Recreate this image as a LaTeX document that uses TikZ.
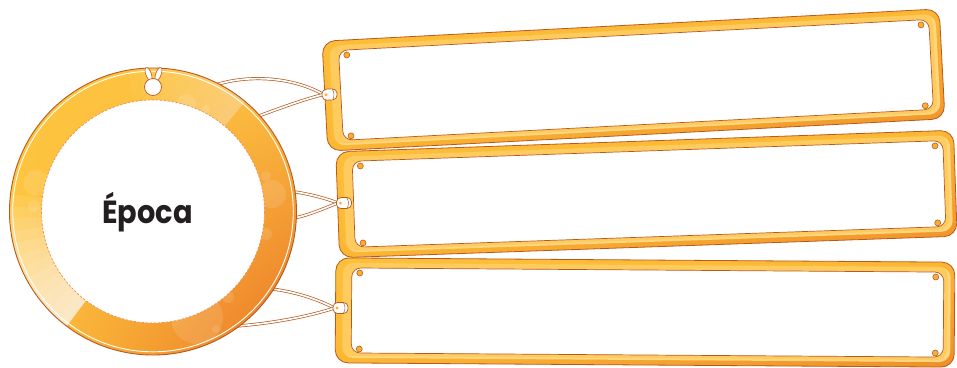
\documentclass[tikz,border=0pt]{standalone}
\usepackage{fontspec}
\usetikzlibrary{shadings}
\newfontfamily\pop{Poppins}
\definecolor{edge}{HTML}{B9581F}
\definecolor{fY}{HTML}{FDC03A}
\definecolor{fY2}{HTML}{FBB734}
\definecolor{fO}{HTML}{EF8E28}
\definecolor{fL}{HTML}{FFD57E}
\definecolor{dotc}{HTML}{F8AE30}
\definecolor{ringY}{HTML}{FEC63F}
\definecolor{ringY2}{HTML}{FCC243}
\definecolor{ringO}{HTML}{EA7324}
\definecolor{dashc}{HTML}{F0904A}
\definecolor{txt}{HTML}{231F20}
\tikzset{
  stringline/.style={draw=edge, double=white, double distance=1.7pt, line width=0.7pt},
  brd/.style={draw=edge, line width=0.8pt},
  dotst/.style={fill=dotc, draw=edge, line width=0.55pt},
  clipst/.style={fill=white, draw=edge, line width=0.7pt, rounded corners=4.5pt},
}
\newcommand{\myboard}[6]{% name, cx, cy, angle, W, H
  \begin{scope}[shift={(#2,#3)}, rotate=#4]
    \pgfmathsetmacro\hw{#5/2}\pgfmathsetmacro\hh{#6/2}
    \coordinate (#1) at (0,0);
    \shade[upper left=fY, upper right=fY2, lower left=fY2, lower right=fO, rounded corners=13pt]
      (-\hw,-\hh) rectangle (\hw,\hh);
    \fill[fL, rounded corners=11pt] ({-\hw+7},{-\hh+5}) rectangle ({\hw-4},{\hh-5});
    \fill[fY, rounded corners=11pt, opacity=0.45] ({-\hw+4},{-\hh+3}) rectangle ({\hw-7},{\hh-7});
    \draw[brd, rounded corners=13pt] (-\hw,-\hh) rectangle (\hw,\hh);
    \filldraw[fill=white, draw=edge, line width=0.7pt, rounded corners=9pt]
      ({-\hw+16},{-\hh+10}) rectangle ({\hw-11},{\hh-10});
    \foreach \px/\py in {{-\hw+24}/{-\hh+15}, {-\hw+24}/{\hh-14}, {\hw-19}/{-\hh+15}, {\hw-19}/{\hh-14}}
      \filldraw[dotst] (\px,\py) circle (3);
  \end{scope}
}
\newcommand{\myclip}[4]{% name, x, y, angle
  \begin{scope}[shift={(#2,#3)}, rotate=#4]
    \coordinate (#1) at (-6,0);
    \filldraw[clipst] (-7.5,-5.5) rectangle (7.5,5.5);
    \draw[edge, line width=0.5pt] (3,-5) .. controls (5,-2) and (5,2) .. (3,5);
    \fill[dotc] (-3.5,0) circle (1.6);
  \end{scope}
}
\begin{document}
\begin{tikzpicture}[x=1pt, y=-1pt]
\useasboundingbox (0,0) rectangle (957,367);
\fill[white] (0,0) rectangle (957,367);

% boards
\myboard{b1}{633.5}{80}{3}{618}{110}
\myboard{b2}{646.5}{194}{2}{618}{106}
\myboard{b3}{645}{312.5}{-0.4}{619}{105}

% ring coordinates
\coordinate (rc) at (153,211.5);
\coordinate (u1) at (212,86);
\coordinate (l1) at (256,117);
\coordinate (u2) at (288,191);
\coordinate (l2) at (288,219);
\coordinate (u3) at (262,288);
\coordinate (l3) at (238,326);
\coordinate (k1) at (323.5,94.5);
\coordinate (k2) at (338,203);
\coordinate (k3) at (334.5,308);

% strings
\draw[stringline] (u1) .. controls (250,73) and (295,78) .. (k1);
\draw[stringline] (l1) .. controls (283,107) and (305,99) .. (k1);
\draw[stringline] (u2) .. controls (305,193) and (322,197) .. (k2);
\draw[stringline] (l2) .. controls (305,217) and (322,209) .. (k2);
\draw[stringline] (u3) .. controls (290,290) and (315,298) .. (k3);
\draw[stringline] (l3) .. controls (275,323) and (310,316) .. (k3);

% ring
\shade[upper left=ringY, upper right=ringY2, lower left=ringY, lower right=ringO]
  (rc) circle (143.5);
\begin{scope}
  \clip (rc) circle (143.5);
  \foreach \i in {0,...,11}
    \fill[white, opacity=0.1] (rc) -- ++(127:160) arc[start angle=127, end angle={127+5*(\i+1)}, radius=160] -- cycle;
  \foreach \i in {0,...,9}
    \fill[white, opacity=0.035] (rc) -- ++(-50:160) arc[start angle=-50, end angle={-50-5*(\i+1)}, radius=160] -- cycle;
  \fill[white, opacity=0.12] (36,183) circle (13);
  \fill[white, opacity=0.12] (34,206) circle (6);
  \fill[white, opacity=0.12] (272,194) circle (14);
  \fill[white, opacity=0.12] (266,176) circle (5);
  \fill[white, opacity=0.12] (186,104) circle (10);
  \fill[white, opacity=0.12] (206,109) circle (4);
  \fill[white, opacity=0.12] (197,318) circle (26);
  \fill[white, opacity=0.12] (216,329) circle (4);
  \fill[white, opacity=0.12] (266,234) circle (6);
  \fill[white, opacity=0.12] (228,297) circle (6);
\end{scope}
\fill[white] (rc) circle (111.5);
\draw[edge, line width=0.9pt] (rc) circle (143.5);
\draw[white, line width=0.9pt] (rc) circle (140.3);
\draw[dashc, line width=0.7pt, dash pattern=on 2.5pt off 1.5pt] (rc) circle (111.5);

% hanger
\filldraw[fill=white, draw=edge, line width=0.6pt, rotate around={20:(148.5,74)}] (148.5,74) ellipse (2.7 and 6.8);
\filldraw[fill=white, draw=edge, line width=0.6pt, rotate around={-20:(158.5,74)}] (158.5,74) ellipse (2.7 and 6.8);
\filldraw[fill=white, draw=edge, line width=0.7pt] (153,87) circle (8.5);

% clips
\myclip{c1}{329.5}{94.5}{3}
\myclip{c2}{344}{203}{2}
\myclip{c3}{340.5}{308}{0}

% text
\node[font=\pop\bfseries\fontsize{32}{34}\selectfont, text=txt, anchor=base, inner sep=0pt] (t) at (147.5,223) {\scalebox{0.9}[1]{Época}};
\end{tikzpicture}
\end{document}
